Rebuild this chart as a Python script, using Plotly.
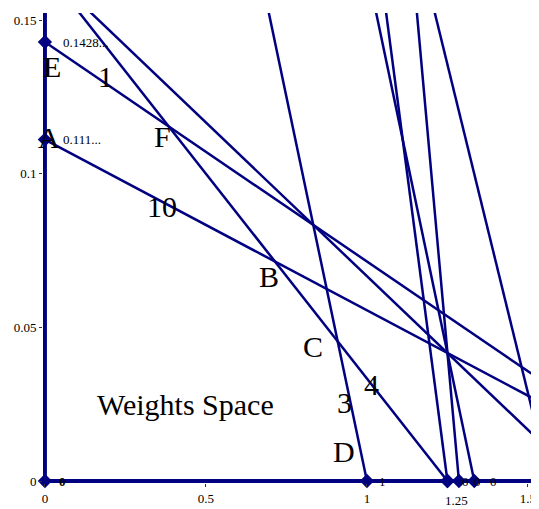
import plotly.graph_objects as go

# ---- data: each line of the weights space given by its intercepts ----
line_names   = ["1", "10", "3", "4", "5", "6", "7", "8", "9"]
x_intercepts = [2.0, 2.0, 1.0, 1.25, 5/3, 4/3, 1.25, 9/7, 1.567]
y_intercepts = [1/7, 1/9, 0.5, 1/6, 1/6, 2/3, 1.0, 1.5, 0.67]

x_tick_vals = [0, 0.5, 1, 1.5]
x_tick_text = ["0", "0.5", "1", "1.5"]
y_tick_vals = [0, 0.05, 0.1, 0.15]
y_tick_text = ["0", "0.05", "0.1", "0.15"]

X_RANGE = [-0.006, 1.525]
Y_RANGE = [-0.00065, 0.1523]

NAVY = "#000080"
SERIF = "Liberation Serif, Times New Roman, serif"

fig = go.Figure()

# axes drawn as series
fig.add_trace(go.Scatter(x=[0, 0], y=[0, Y_RANGE[1]], mode="lines",
                         line=dict(color=NAVY, width=4), hoverinfo="skip"))
fig.add_trace(go.Scatter(x=[0, X_RANGE[1]], y=[0, 0], mode="lines",
                         line=dict(color=NAVY, width=4), hoverinfo="skip"))

# lines
for name, a, b in zip(line_names, x_intercepts, y_intercepts):
    fig.add_trace(go.Scatter(x=[0, a], y=[b, 0], mode="lines", name=name,
                             line=dict(color=NAVY, width=2.5), hoverinfo="skip"))

# visible intercept markers
mx, my = [0.0], [0.0]
for a, b in zip(x_intercepts, y_intercepts):
    if b <= Y_RANGE[1]:
        mx.append(0.0); my.append(b)
    if a <= X_RANGE[1]:
        mx.append(a); my.append(0.0)
fig.add_trace(go.Scatter(x=mx, y=my, mode="markers", cliponaxis=False,
                         marker=dict(symbol="diamond", size=11, color=NAVY),
                         hoverinfo="skip"))

def px2x(px):
    return (px - 45) / 322.0

def px2y(py):
    return (482 - py) / 3080.0

big_labels = [("E", 52, 67), ("1", 106, 77), ("A", 49, 138), ("F", 163, 137),
              ("10", 162, 207), ("B", 269, 277), ("C", 313, 347), ("4", 372, 385),
              ("3", 345, 403), ("D", 344, 452), ("Weights Space", 186, 405)]
anns = []
for t, px, py in big_labels:
    anns.append(dict(x=px2x(px), y=px2y(py), text=t, showarrow=False,
                     font=dict(family=SERIF, size=30, color="black"),
                     xanchor="center", yanchor="middle"))

small_labels = [("0.1428...", 0, 1/7, 16, "left"), ("0.111...", 0, 1/9, 16, "left"),
                ("<b>0</b>", 0, 0, 18, "center"), ("1", 1.0, 0, 16, "center"),
                ("0", 1.25, 0, 18, "center"), ("0", 9/7, 0, 19, "center"),
                ("0", 4/3, 0, 19, "center")]
for t, x, y, xs, xa in small_labels:
    anns.append(dict(x=x, y=y, text=t, showarrow=False, xshift=xs,
                     font=dict(family=SERIF, size=13, color="black"),
                     xanchor=xa, yanchor="middle"))
anns.append(dict(x=9/7, y=0, text="1.25", showarrow=False, yshift=-19, xshift=-2,
                 font=dict(family=SERIF, size=13, color="black"),
                 xanchor="center", yanchor="middle"))

# page body has an 8px margin; compensate so the plot area lands where the reference has it
fig.update_layout(
    width=531, height=501,
    margin=dict(l=35, r=3, t=5, b=17),
    paper_bgcolor="white", plot_bgcolor="white",
    showlegend=False,
    annotations=anns,
    xaxis=dict(range=X_RANGE, tickvals=x_tick_vals, ticktext=x_tick_text,
               showgrid=False, zeroline=False, showline=False,
               ticks="outside", ticklen=3, tickcolor="#333",
               tickfont=dict(family=SERIF, size=13, color="black")),
    yaxis=dict(range=Y_RANGE, tickvals=y_tick_vals, ticktext=y_tick_text,
               showgrid=False, zeroline=False, showline=False,
               ticks="outside", ticklen=3, tickcolor="#333",
               tickfont=dict(family=SERIF, size=13, color="black")),
)

fig.write_html("out.html")
